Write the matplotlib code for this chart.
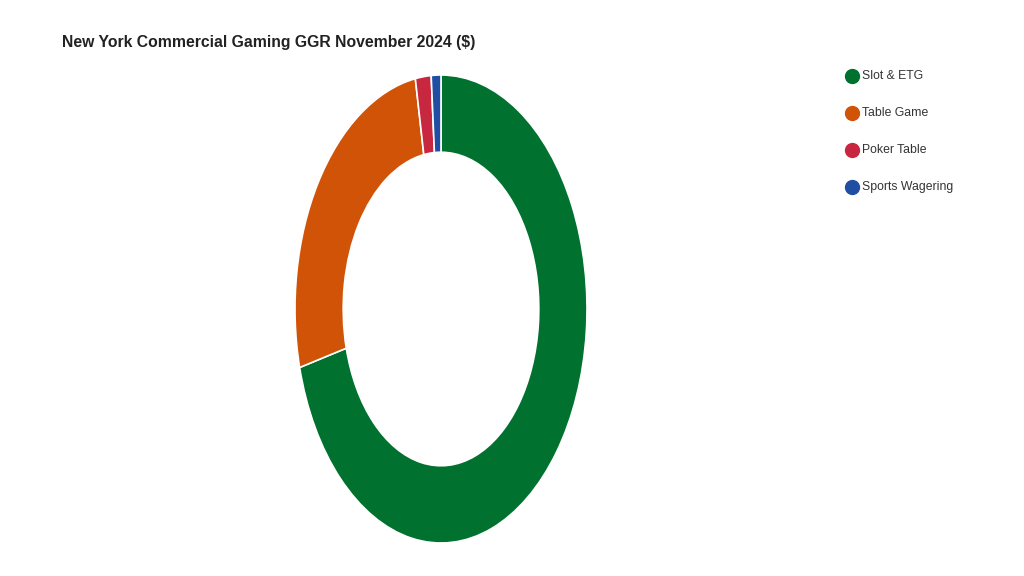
import matplotlib
matplotlib.use("Agg")
import matplotlib.pyplot as plt
from matplotlib.lines import Line2D

categories = ["Slot & ETG", "Table Game", "Poker Table", "Sports Wagering"]
values = [371.0, 137.0, 9.1, 5.6]
colors = ["#00712e", "#d05308", "#c8283f", "#1f4ea3"]

W, H = 1024, 576
fig = plt.figure(figsize=(W/100, H/100), dpi=100)
plt.rcParams['font.family'] = ['Liberation Sans', 'DejaVu Sans']
ax = fig.add_axes([295/W, (H-543)/H, 292/W, 468/H])
ax.pie(values, colors=colors, startangle=90, counterclock=False, radius=1,
       wedgeprops=dict(width=0.33, edgecolor="white", linewidth=1.2))
ax.set_aspect('auto')
ax.set_xlim(-1, 1); ax.set_ylim(-1, 1)
ax.axis('off')

fig.text(62/W, 1-42/H, "New York Commercial Gaming GGR November 2024 ($)",
         fontsize=11.3, fontweight='bold', color='#222222', va='center', ha='left')

for i, (c, col) in enumerate(zip(categories, colors)):
    y = 1 - (76 + 37*i)/H
    fig.add_artist(Line2D([852/W], [y], marker='o', markersize=10, color=col,
                          transform=fig.transFigure, linestyle='None'))
    fig.text(862/W, y, c, fontsize=8.8, color='#333333', va='center', ha='left')

fig.savefig("out.png", dpi=100, facecolor='white')
